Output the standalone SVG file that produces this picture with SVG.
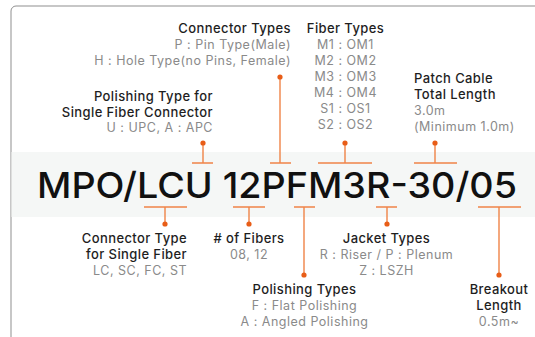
<svg xmlns="http://www.w3.org/2000/svg" width="535" height="337" viewBox="0 0 535 337">
<defs>
<style>
.t{font-family:Inter,"Open Sans","Liberation Sans",sans-serif;font-size:13px;font-weight:500;fill:#1e1e1e;letter-spacing:0.4px}
.s{font-family:Inter,"Open Sans","Liberation Sans",sans-serif;font-size:12.5px;font-weight:400;fill:#8a8a8a;letter-spacing:0.5px}
.r{text-anchor:end}
.m{text-anchor:middle}
.ln{stroke:#f08448;stroke-width:1.4;fill:none}
.dot{fill:#e85d17}
</style>
</defs>
<rect x="0" y="0" width="535" height="337" fill="#ffffff"/>
<rect x="11" y="6" width="600" height="400" rx="5" fill="#ffffff" stroke="#8f8f8f" stroke-width="1"/>
<rect x="11.5" y="152" width="524" height="65" fill="#f5f7f6"/>
<g id="code">
<text x="37" y="198" font-family="Inter,'Open Sans','Liberation Sans',sans-serif" font-size="36" font-weight="550" fill="#111" textLength="480" lengthAdjust="spacingAndGlyphs">MPO/LCU 12PFM3R-30/05</text>
</g>
<g id="connectors">
<path class="ln" d="M192 163H213M203 163V143"/>
<path class="ln" d="M270 163H291M280 163V77"/>
<path class="ln" d="M318 163H372M345 163V143"/>
<path class="ln" d="M414 163H457M435 163V143"/>
<path class="ln" d="M144 207H187M165 207V224"/>
<path class="ln" d="M233 207H265M249 207V224"/>
<path class="ln" d="M294 207H315M304 207V275"/>
<path class="ln" d="M376 207H397M387 207V224"/>
<path class="ln" d="M478 207H521M499 207V275"/>
<circle class="dot" cx="203" cy="143" r="2.6"/>
<circle class="dot" cx="280" cy="77" r="2.6"/>
<circle class="dot" cx="345" cy="143" r="2.6"/>
<circle class="dot" cx="435" cy="143" r="2.6"/>
<circle class="dot" cx="165" cy="224" r="2.6"/>
<circle class="dot" cx="249" cy="224" r="2.6"/>
<circle class="dot" cx="304" cy="275" r="2.6"/>
<circle class="dot" cx="387" cy="224" r="2.6"/>
<circle class="dot" cx="499" cy="275" r="2.6"/>
</g>
<g id="connector-types">
<text class="t r" x="291" y="33">Connector Types</text>
<text class="s r" x="291" y="49">P : Pin Type(Male)</text>
<text class="s r" x="291" y="65">H : Hole Type(no Pins, Female)</text>
</g>
<g id="polishing-single">
<text class="t r" x="213" y="101">Polishing Type for</text>
<text class="t r" x="213" y="117">Single Fiber Connector</text>
<text class="s r" x="213" y="132">U : UPC, A : APC</text>
</g>
<g id="fiber-types">
<text class="t m" x="345.5" y="33">Fiber Types</text>
<text class="s m" x="345.5" y="49">M1 : OM1</text>
<text class="s m" x="345.5" y="65">M2 : OM2</text>
<text class="s m" x="345.5" y="81">M3 : OM3</text>
<text class="s m" x="345.5" y="97">M4 : OM4</text>
<text class="s m" x="345.5" y="113">S1 : OS1</text>
<text class="s m" x="345.5" y="129">S2 : OS2</text>
</g>
<g id="patch-length">
<text class="t" x="414" y="83">Patch Cable</text>
<text class="t" x="414" y="99">Total Length</text>
<text class="s" x="414" y="115">3.0m</text>
<text class="s" x="414" y="131">(Minimum 1.0m)</text>
</g>
<g id="connector-single">
<text class="t r" x="187" y="243">Connector Type</text>
<text class="t r" x="187" y="259">for Single Fiber</text>
<text class="s r" x="187" y="275">LC, SC, FC, ST</text>
</g>
<g id="fibers">
<text class="t m" x="249" y="243"># of Fibers</text>
<text class="s m" x="249" y="259">08, 12</text>
</g>
<g id="polishing-types">
<text class="t m" x="304.5" y="294">Polishing Types</text>
<text class="s m" x="304.5" y="310">F : Flat Polishing</text>
<text class="s m" x="304.5" y="326">A : Angled Polishing</text>
</g>
<g id="jacket-types">
<text class="t m" x="386.5" y="243">Jacket Types</text>
<text class="s m" x="386.5" y="259">R : Riser / P : Plenum</text>
<text class="s m" x="386.5" y="275">Z : LSZH</text>
</g>
<g id="breakout">
<text class="t m" x="499" y="294">Breakout</text>
<text class="t m" x="499" y="310">Length</text>
<text class="s m" x="499" y="326">0.5m~</text>
</g>
</svg>
